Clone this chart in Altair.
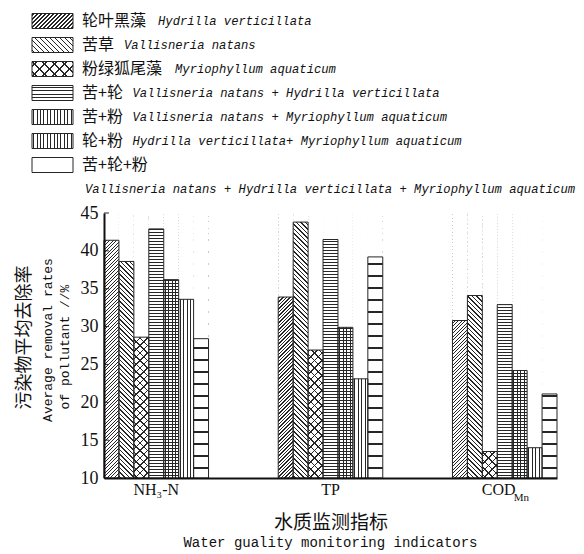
import altair as alt
import pandas as pd

# ---------------- data ----------------
groups = ["NH₃-N", "TP", "COD"]
group_subscripts = ["", "", "Mn"]
series_cn = ["轮叶黑藻", "苦草", "粉绿狐尾藻", "苦+轮", "苦+粉", "轮+粉", "苦+轮+粉"]
series_latin = [
    "Hydrilla verticillata",
    "Vallisneria natans",
    "Myriophyllum aquaticum",
    "Vallisneria natans + Hydrilla verticillata",
    "Vallisneria natans + Myriophyllum aquaticum",
    "Hydrilla verticillata+ Myriophyllum aquaticum",
    "",
]
latin_second_line = "Vallisneria natans + Hydrilla verticillata + Myriophyllum aquaticum"
nh3n = [41.4, 38.6, 28.6, 42.9, 36.2, 33.6, 28.4]
tp = [33.9, 43.8, 26.9, 41.5, 29.9, 23.1, 39.2]
cod = [30.8, 34.1, 13.5, 32.9, 24.2, 14.0, 21.1]
y_ticks = [10, 15, 20, 25, 30, 35, 40, 45]
y_title_cn = "污染物平均去除率"
y_title_en = ["Average removal rates", "of pollutant //%"]
x_title_cn = "水质监测指标"
x_title_en = "Water guality monitoring indicators"

rows = []
for g, vals in zip(groups, [nh3n, tp, cod]):
    for s, v in zip(series_cn, vals):
        rows.append({"group": g, "series": s, "value": v})
df = pd.DataFrame(rows)
label_df = pd.DataFrame({"group": groups, "sub": group_subscripts})

# ---------------- layout / style ----------------
W_PLOT, H_PLOT = 453, 265
PAD_INNER = 0.4
BAR_W = W_PLOT / (len(groups) - PAD_INNER) * (1 - PAD_INNER) / len(series_cn)
SW_W, SW_H = 41, 15
LEG_TOP, LEG_STEP = -192, 24
INK = "#262626"
TXT = "#111"
CLEAR = "rgba(0,0,0,0)"
CJK = "Noto Sans CJK SC"
SERIF = "Liberation Serif"
MONO = "Liberation Mono"


def stripes(kind, W, H, period, lw, phase=None):
    if kind == "h":
        L = H
        x1, y1, x2, y2 = 0, 0, 0, 1
    elif kind == "v":
        L = W
        x1, y1, x2, y2 = 0, 0, 1, 0
    else:
        t = (W + H) / (W * W + H * H)
        L = W + H
        if kind == "d1":
            x1, y1, x2, y2 = 0, 0, W * t, H * t
        else:
            x1, y1, x2, y2 = 0, 1, W * t, 1 - H * t
    if phase is None:
        phase = period / 2
    stops = [{"offset": 0, "color": CLEAR}]
    c = phase
    while c - lw / 2 < L:
        a = round(max(0.0, (c - lw / 2) / L), 6)
        b = round(min(1.0, (c + lw / 2) / L), 6)
        stops += [
            {"offset": a, "color": CLEAR},
            {"offset": a, "color": INK},
            {"offset": b, "color": INK},
            {"offset": b, "color": CLEAR},
        ]
        c += period
    stops.append({"offset": 1, "color": CLEAR})
    return {"gradient": "linear", "x1": x1, "y1": y1, "x2": x2, "y2": y2, "stops": stops}


bar_patterns = [
    [("d1", 3.5, 1.4)],
    [("d2", 4.5, 1.4)],
    [("d1", 7.5, 1.4), ("d2", 7.5, 1.4)],
    [("h", 3, 1)],
    [("h", 3, 1), ("v", 3.5, 1)],
    [("v", 3.5, 1)],
    [("h", 6, 1)],
]
swatch_patterns = [
    [("d1", 4, 1.4)],
    [("d2", 5, 1.4)],
    [("d1", 10, 1.4), ("d2", 10, 1.4)],
    [("h", 3.5, 1)],
    [("h", 3, 1), ("v", 3.4, 1)],
    [("v", 3.4, 1)],
    [("h", 7.5, 1, 7.5)],
]

x_scale = alt.Scale(domain=groups, paddingInner=PAD_INNER, paddingOuter=0)
xo_scale = alt.Scale(domain=series_cn, paddingInner=0, paddingOuter=0)
y_scale = alt.Scale(domain=[10, 45], nice=False, zero=False)

x_axis = alt.Axis(
    title=x_title_cn,
    titleFont=CJK,
    titleFontSize=19,
    titleFontWeight="normal",
    titleColor=TXT,
    titleY=44,
    titleBaseline="middle",
    labels=False,
    ticks=False,
    domainWidth=2,
    domainColor=TXT,
    grid=False,
    zindex=1,
)
y_axis = alt.Axis(
    values=y_ticks,
    title=y_title_cn,
    titleFont=CJK,
    titleFontSize=18,
    titleFontWeight="normal",
    titleColor=TXT,
    titleX=-80,
    titleY=124,
    titleAngle=270,
    titleAlign="center",
    titleBaseline="middle",
    labelFont=SERIF,
    labelFontSize=18,
    labelColor=TXT,
    labelPadding=6,
    ticks=False,
    domainWidth=2,
    domainColor=TXT,
    grid=False,
    zindex=1,
)

X_ax = alt.X("group:N", scale=x_scale, axis=x_axis)
XO = alt.XOffset("series:N", scale=xo_scale)
Y_ax = alt.Y("value:Q", scale=y_scale, axis=y_axis)
Y_top = alt.Y(datum=45, type="quantitative", scale=y_scale, axis=y_axis)

base = alt.Chart(df)

layers = []
# pattern fills, full height (the part above each value is covered in white)
for s, comps in zip(series_cn, bar_patterns):
    for comp in comps:
        kind, period, lw = comp[:3]
        g = stripes(kind, BAR_W, H_PLOT, period, lw)
        layers.append(
            base.transform_filter(alt.datum.series == s)
            .mark_bar(fill=g, strokeWidth=0)
            .encode(x=X_ax, xOffset=XO, y=Y_top, y2=alt.datum(10))
        )
# white cover above each bar's value
layers.append(
    base.mark_bar(fill="white", strokeWidth=0).encode(
        x=X_ax, xOffset=XO, y=Y_ax, y2=alt.datum(45)
    )
)
# inward ticks
tick_df = pd.DataFrame({"value": y_ticks})
layers.append(
    alt.Chart(tick_df)
    .mark_rule(color=INK, strokeWidth=1)
    .encode(y=Y_ax, x=alt.value(0), x2=alt.value(5))
)
# outlines
layers.append(
    base.mark_bar(fillOpacity=0, stroke=INK, strokeWidth=1).encode(
        x=X_ax, xOffset=XO, y=Y_ax, y2=alt.datum(10)
    )
)
# x category labels (with subscripts)
lab = alt.Chart(label_df)
layers.append(
    lab.transform_filter("datum.sub == ''")
    .mark_text(font=SERIF, fontSize=16, align="center", baseline="top", color=TXT)
    .encode(x=X_ax, text="group:N", y=alt.value(H_PLOT + 4))
)
layers.append(
    lab.transform_filter("datum.sub != ''")
    .mark_text(font=SERIF, fontSize=16, align="center", baseline="top", color=TXT, dx=-6)
    .encode(x=X_ax, text="group:N", y=alt.value(H_PLOT + 4))
)
layers.append(
    lab.transform_filter("datum.sub != ''")
    .mark_text(font=SERIF, fontSize=11, align="left", baseline="top", color=TXT, dx=9)
    .encode(x=X_ax, text="sub:N", y=alt.value(H_PLOT + 14))
)
# english axis title lines
one = pd.DataFrame({"t": [0]})
for txt, xx, yy in [(y_title_en[0], -56, 127), (y_title_en[1], -39, 134)]:
    layers.append(
        alt.Chart(one)
        .mark_text(font=MONO, fontSize=13, angle=270, align="center", baseline="middle", color=TXT)
        .encode(text=alt.value(txt), x=alt.value(xx), y=alt.value(yy))
    )
layers.append(
    alt.Chart(one)
    .mark_text(font=MONO, fontSize=14, align="center", baseline="middle", color=TXT)
    .encode(text=alt.value(x_title_en), x=alt.value(W_PLOT / 2), y=alt.value(330))
)

# ---------------- legend ----------------
leg_df = pd.DataFrame({"cn": series_cn, "latin": series_latin})


def cjk_width(s):
    w = 0.0
    for ch in s:
        if ord(ch) > 0x2E80:
            w += 17
        elif ch == "+":
            w += 8.5
        else:
            w += 8
    return w


for i, (cn, la, comps) in enumerate(zip(series_cn, series_latin, swatch_patterns)):
    yc = LEG_TOP + LEG_STEP * i
    row = alt.Chart(leg_df).transform_filter(alt.datum.cn == cn)
    for comp in comps:
        kind, period, lw = comp[:3]
        phase = comp[3] if len(comp) > 3 else None
        g = stripes(kind, SW_W, SW_H, period, lw, phase)
        layers.append(
            row.mark_rect(fill=g, strokeWidth=0).encode(
                x=alt.value(-72), x2=alt.value(-72 + SW_W),
                y=alt.value(yc - SW_H / 2), y2=alt.value(yc + SW_H / 2),
            )
        )
    layers.append(
        row.mark_rect(fillOpacity=0, stroke=INK, strokeWidth=1).encode(
            x=alt.value(-72), x2=alt.value(-72 + SW_W),
            y=alt.value(yc - SW_H / 2), y2=alt.value(yc + SW_H / 2),
        )
    )
    layers.append(
        row.mark_text(font=CJK, fontSize=16, align="left", baseline="middle", color=TXT).encode(
            text="cn:N", x=alt.value(-22), y=alt.value(yc)
        )
    )
    if la:
        layers.append(
            row.mark_text(font=MONO, fontStyle="italic", fontSize=12.2, align="left",
                          baseline="middle", color=TXT).encode(
                text="latin:N", x=alt.value(-22 + cjk_width(cn) + 8), y=alt.value(yc)
            )
        )
layers.append(
    alt.Chart(one)
    .mark_text(font=MONO, fontStyle="italic", fontSize=12.2, align="left", baseline="middle", color=TXT)
    .encode(text=alt.value(latin_second_line), x=alt.value(-19), y=alt.value(LEG_TOP + LEG_STEP * 7))
)

chart = (
    alt.layer(*layers)
    .properties(
        width=W_PLOT,
        height=H_PLOT,
        autosize="none",
        padding={"left": 96, "top": 205, "right": 19, "bottom": 74},
        background="white",
    )
    .configure_view(strokeWidth=0)
)

chart.save("out.html", embed_options={"renderer": "svg", "actions": False})
